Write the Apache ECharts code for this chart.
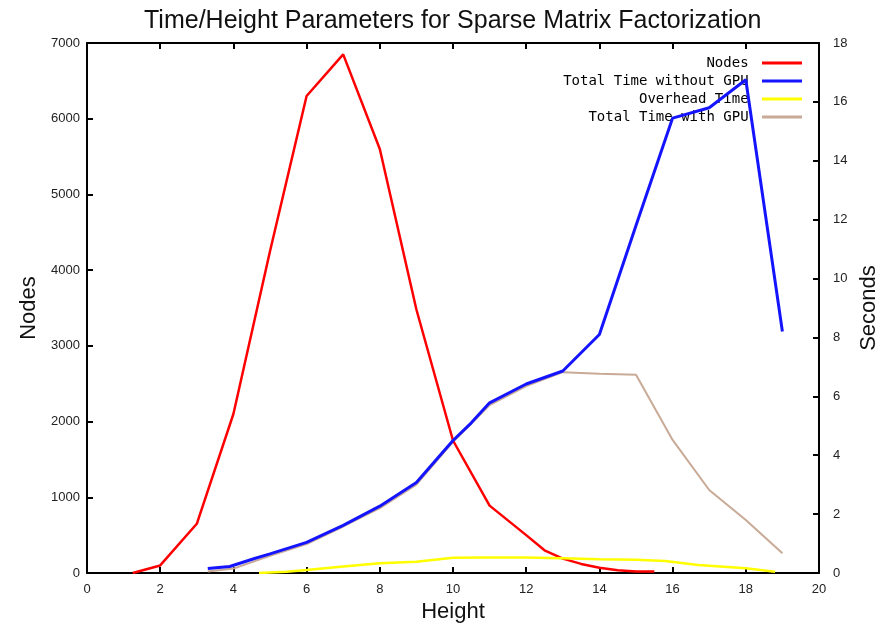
<!DOCTYPE html>
<html>
<head>
<meta charset="utf-8">
<title>Time/Height Parameters for Sparse Matrix Factorization</title>
<script src="https://cdn.jsdelivr.net/npm/echarts@6/dist/echarts.min.js"></script>
<style>
  html, body { margin: 0; padding: 0; background: #fff; }
  #chart { width: 883px; height: 629px; }
</style>
</head>
<body>
<div id="chart"></div>
<script>
// values
const nodeHeights = [1.25, 2, 3, 4, 5, 6, 7, 8, 9, 10, 11, 12, 12.5, 13, 13.5, 14, 14.5, 15, 15.5];
const nodeCounts  = [0, 100, 650, 2100, 4250, 6300, 6850, 5600, 3480, 1750, 890, 500, 300, 190, 120, 70, 35, 20, 20];

const noGpuHeights = [3.3, 3.9, 4.6, 5, 6, 7, 8, 9, 10, 10.5, 11, 12, 13, 14, 15, 16, 17, 18, 19];
const noGpuSeconds = [0.15, 0.22, 0.5, 0.65, 1.04, 1.62, 2.27, 3.07, 4.5, 5.1, 5.78, 6.42, 6.86, 8.1, 11.8, 15.45, 15.8, 16.75, 8.2];

const overheadHeights = [4.7, 5.45, 6, 7, 8, 9, 10, 11, 12, 13, 14, 15, 15.8, 16.7, 18, 18.8];
const overheadSeconds = [0, 0.04, 0.1, 0.22, 0.33, 0.38, 0.52, 0.53, 0.53, 0.5, 0.47, 0.45, 0.41, 0.27, 0.16, 0.04];

const withGpuHeights = [3.3, 4, 5, 6, 7, 8, 9, 10, 11, 12, 13, 14, 15, 16, 17, 18, 19];
const withGpuSeconds = [0.05, 0.15, 0.58, 0.98, 1.58, 2.2, 3.0, 4.45, 5.7, 6.35, 6.82, 6.77, 6.73, 4.52, 2.82, 1.8, 0.67];

const seriesNames = ['Nodes', 'Total Time without GPU', 'Overhead Time', 'Total Time with GPU'];
const seriesColors = ['#ff0000', '#1414ff', '#ffff00', '#c8aa96'];

function pairs(xs, ys) {
    return xs.map((x, i) => [x, ys[i]]);
}

const padLen = Math.max(...seriesNames.map(n => n.length));
const tickFont = { fontFamily: 'Liberation Sans', fontSize: 13, color: '#222', formatter: v => String(v) };
const nameFont = { fontFamily: 'Liberation Sans', fontSize: 22, color: '#111' };
const frameLine = { show: true, onZero: false, lineStyle: { color: '#000', width: 2 } };
const innerTick = { show: true, inside: true, length: 6, lineStyle: { color: '#000', width: 2 } };

function lineSeries(idx, data, yAxisIndex, width, z) {
    return {
        name: seriesNames[idx],
        type: 'line',
        xAxisIndex: 0,
        yAxisIndex: yAxisIndex,
        data: data,
        showSymbol: false,
        symbol: 'none',
        z: z,
        color: seriesColors[idx],
        lineStyle: { color: seriesColors[idx], width: width }
    };
}

const chart = echarts.init(document.getElementById('chart'));

chart.setOption({
    animation: false,
    backgroundColor: '#fff',
    title: {
        text: 'Time/Height Parameters for Sparse Matrix Factorization',
        left: 139,
        top: 4,
        textStyle: { fontFamily: 'Liberation Sans', fontSize: 25, fontWeight: 'normal', color: '#111' }
    },
    legend: {
        orient: 'vertical',
        right: 76,
        top: 49,
        align: 'right',
        itemGap: 0,
        itemWidth: 40,
        itemHeight: 3,
        icon: 'rect',
        selectedMode: false,
        data: seriesNames,
        formatter: name => name.padStart(padLen, ' ') + ' ',
        textStyle: { fontFamily: 'DejaVu Sans Mono', fontSize: 14, color: '#000', lineHeight: 18 }
    },
    grid: { left: 87, right: 64, top: 43, bottom: 56, outerBoundsMode: 'none' },
    xAxis: [
        {
            type: 'value',
            min: 0, max: 20, interval: 2,
            position: 'bottom',
            name: 'Height',
            nameLocation: 'middle',
            nameGap: 28,
            nameTextStyle: nameFont,
            axisLine: frameLine,
            axisTick: innerTick,
            axisLabel: Object.assign({ margin: 10 }, tickFont),
            splitLine: { show: false }
        },
        {
            type: 'value',
            min: 0, max: 20, interval: 2,
            position: 'top',
            axisLine: frameLine,
            axisTick: innerTick,
            axisLabel: { show: false },
            splitLine: { show: false }
        }
    ],
    yAxis: [
        {
            type: 'value',
            min: 0, max: 7000, interval: 1000,
            position: 'left',
            name: 'Nodes',
            nameLocation: 'middle',
            nameGap: 47,
            nameRotate: 90,
            nameTextStyle: nameFont,
            axisLine: frameLine,
            axisTick: innerTick,
            axisLabel: Object.assign({ margin: 7 }, tickFont),
            splitLine: { show: false }
        },
        {
            type: 'value',
            min: 0, max: 18, interval: 2,
            position: 'right',
            name: 'Seconds',
            nameLocation: 'middle',
            nameGap: 38,
            nameRotate: 90,
            nameTextStyle: nameFont,
            axisLine: frameLine,
            axisTick: innerTick,
            axisLabel: Object.assign({ margin: 14 }, tickFont),
            splitLine: { show: false }
        }
    ],
    series: [
        lineSeries(0, pairs(nodeHeights, nodeCounts), 0, 2.5, 3),
        lineSeries(1, pairs(noGpuHeights, noGpuSeconds), 1, 3, 5),
        lineSeries(2, pairs(overheadHeights, overheadSeconds), 1, 2.5, 4),
        lineSeries(3, pairs(withGpuHeights, withGpuSeconds), 1, 2, 2)
    ]
});
</script>
</body>
</html>
